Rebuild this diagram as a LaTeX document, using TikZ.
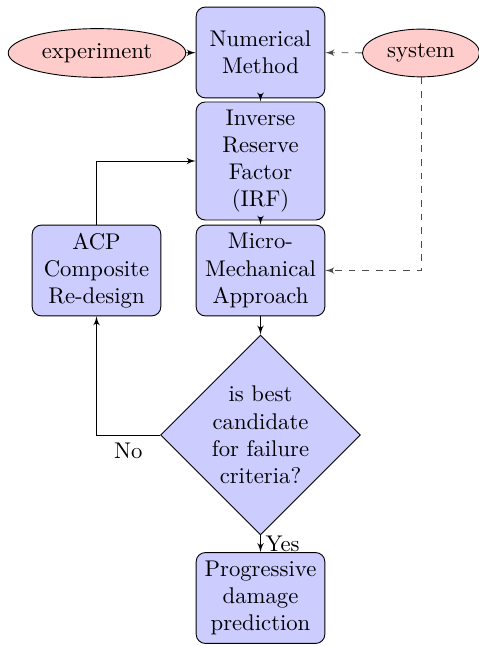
\documentclass[tikz,border=0pt]{standalone}
\usetikzlibrary{shapes.geometric,arrows}
\begin{document}
\begin{tikzpicture}[x=0.4405pt,y=-0.4405pt,
  block/.style={rectangle, draw, fill=blue!20, text width=5em, align=center, rounded corners, minimum height=4em},
  decision/.style={diamond, draw, fill=blue!20, text width=4.5em, align=center, inner sep=0pt},
  cloud/.style={draw, ellipse, fill=red!20, minimum height=2em},
  line/.style={draw, -latex'},
  dline/.style={draw, -latex', dashed, black!70}]
\useasboundingbox (0,0) rectangle (478,646);
\node[block] (num) at (260.5,52.5) {Numerical Method};
\node[block] (irf) at (260.5,161) {Inverse Reserve Factor (IRF)};
\node[block] (micro) at (260.5,270.5) {Micro-\\Mechanical Approach};
\node[decision] (dec) at (260.5,435) {is best candidate for failure criteria?};
\node[block] (prog) at (260.5,598) {Progressive damage prediction};
\node[block] (acp) at (96.5,270.5) {ACP Composite Re-design};
\node[cloud] (exp) at (97,53) {experiment};
\node[cloud] (sys) at (421,53) {system};
\path[line] (exp) -- (num);
\path[dline] (sys) -- (num);
\path[dline] (sys) |- (micro);
\path[line] (num) -- (irf);
\path[line] (irf) -- (micro);
\path[line] (micro) -- (dec);
\path[line] (dec) -- node[right, inner sep=2pt] (yes) {Yes} (prog);
\path[line] (dec) -| node[near start, below] (no) {No} (acp);
\path[line] (acp) |- (irf);
\end{tikzpicture}
\end{document}
